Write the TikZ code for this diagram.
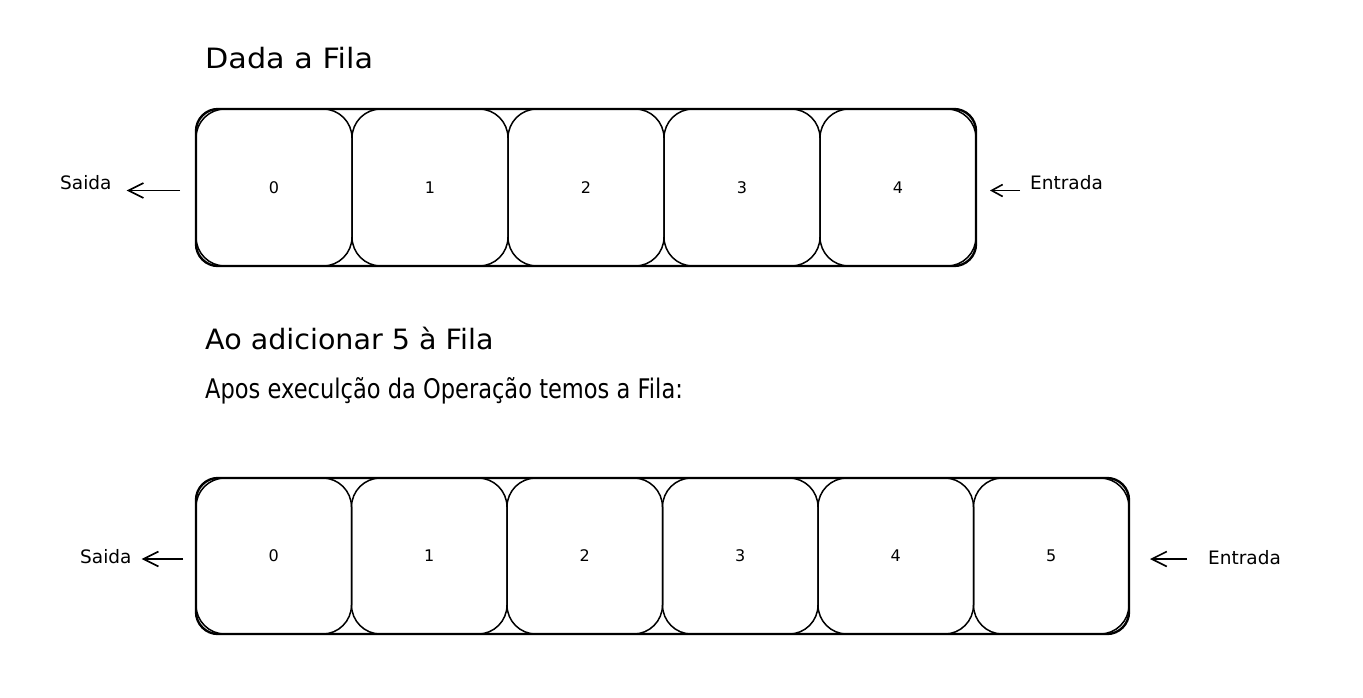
\documentclass[tikz,border=0pt]{standalone}
\usepackage{fontspec}
\setmainfont{DejaVu Sans}
\usetikzlibrary{arrows.meta,fit}
\begin{document}
\begin{tikzpicture}[x=1pt,y=-1pt,
  cell/.style={draw, line width=1.5pt, rounded corners=29pt, minimum width=156pt, minimum height=157pt,
    inner sep=0pt, outer sep=0pt, anchor=north west, font=\fontsize{16}{18}\selectfont},
  cellb/.style={cell, minimum width=155.5pt, minimum height=156pt},
  outer/.style={draw, line width=2.4pt, rounded corners=22pt, inner sep=0pt},
  title/.style={anchor=base west, inner sep=0pt, font=\fontsize{28}{30}\selectfont},
  side/.style={anchor=base west, inner sep=0pt, font=\fontsize{18.5}{20}\selectfont},
  arr/.style={-{Straight Barb[length=15pt,width=15pt]}, line width=1.6pt},
  arrs/.style={-{Straight Barb[length=11pt,width=12pt]}, line width=1.6pt}
]
\useasboundingbox (0,0) rectangle (1363,697);

\node[title] (t1) at (205,68) {\scalebox{1.08}[1]{Dada a Fila}};
\node[title] (t2) at (205,349) {\scalebox{1.02}[1]{Ao adicionar 5 à Fila}};
\node[title, font=\fontsize{27}{29}\selectfont] (t3) at (205,398) {\scalebox{0.835}[1]{Apos execulção da Operação temos a Fila:}};

% first queue
\foreach \i in {0,...,4}
  \node[cell] (a\i) at ({196+156*\i},109) {\i};
\node[outer, fit=(a0)(a4)] (qa) {};

\node[side] (saida1) at (60,189) {Saida};
\node[side] (entrada1) at (1030,189) {Entrada};
\coordinate (sa1) at ([shift={(-16pt,-3pt)}]a0.west);
\coordinate (en1) at ([shift={(14pt,-3pt)}]a4.east);
\draw[arr] (sa1) -- ([xshift=15pt]saida1.east |- sa1);
\draw[arrs] ([xshift=-10pt]entrada1.west |- en1) -- (en1);

% second queue
\foreach \i in {0,...,5}
  \node[cellb] (b\i) at ({196+155.5*\i},478) {\i};
\node[outer, fit=(b0)(b5)] (qb) {};

\node[side] (saida2) at (80,563) {Saida};
\node[side] (entrada2) at (1208,564) {Entrada};
\coordinate (sa2) at ([shift={(-13pt,-3pt)}]b0.west);
\coordinate (en2) at ([shift={(21pt,-3pt)}]b5.east);
\draw[arr] (sa2) -- ([xshift=10pt]saida2.east |- sa2);
\draw[arr] ([xshift=-21pt]entrada2.west |- en2) -- (en2);
\end{tikzpicture}
\end{document}
